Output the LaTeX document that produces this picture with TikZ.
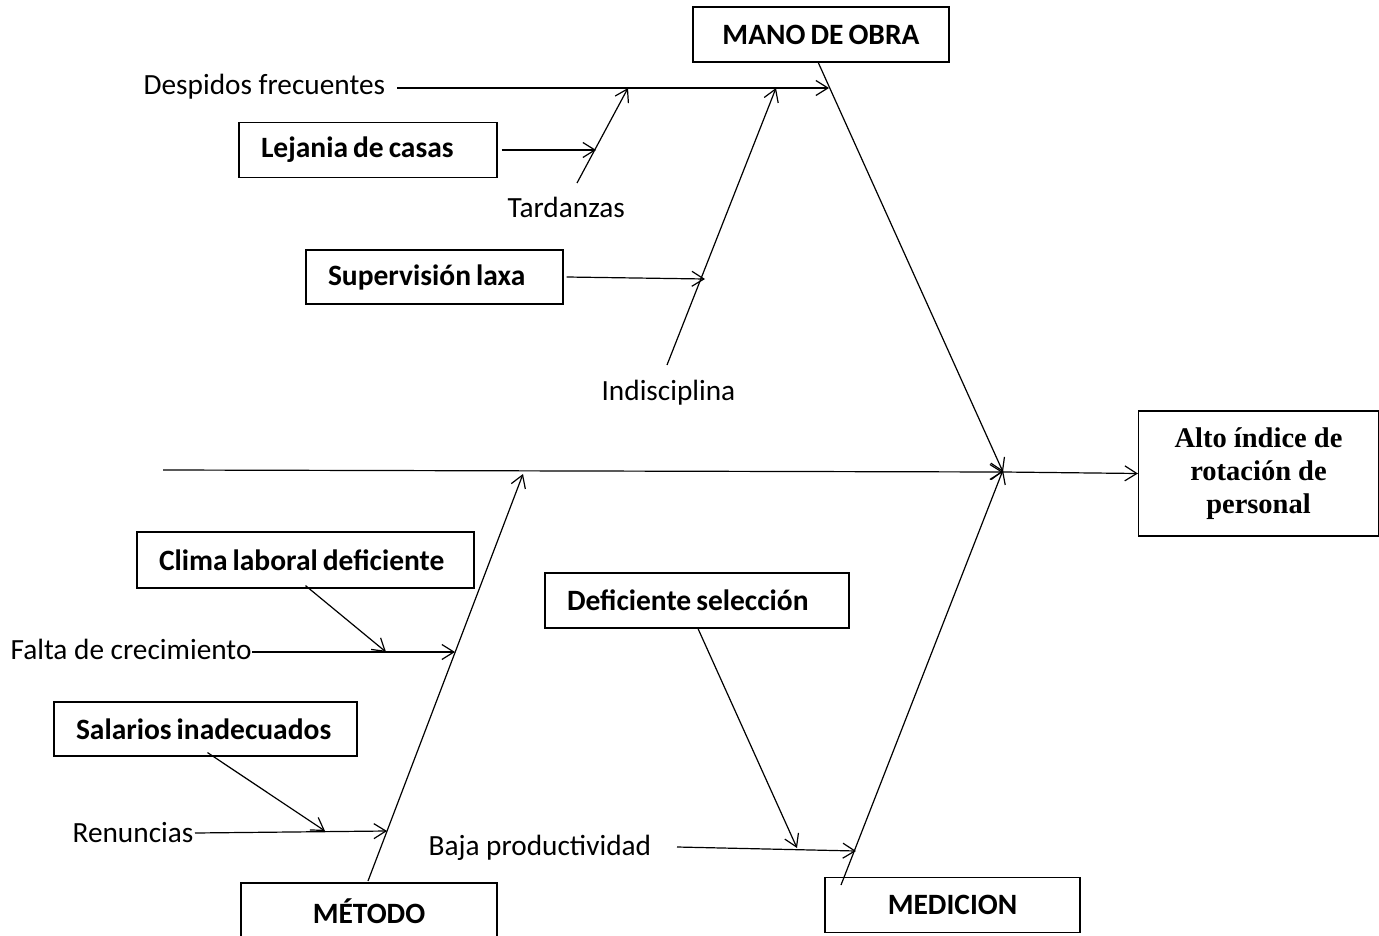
\documentclass[tikz,border=0pt]{standalone}
\usepackage{fontspec}
\setmainfont{Carlito}
\newfontfamily\headserif{Liberation Serif}
\usetikzlibrary{arrows.meta}
\newcommand\tightsp{\spaceskip=0.17em\relax\hyphenpenalty=10000\relax}
\newcommand\boxfont{\fontsize{29.5}{34}\selectfont\bfseries\tightsp}
\begin{document}
\begin{tikzpicture}[x=1pt,y=-1pt,line width=1.2pt,
  txt/.style={font=\fontsize{29.3}{34}\selectfont},
  cbox/.style={draw,inner sep=0pt,minimum height=55pt,font=\boxfont},
  lbox/.style={draw,inner ysep=0pt,inner xsep=22pt,minimum height=55pt,
    align=left,font=\boxfont,execute at begin node=\tightsp},
  lbl/.style={txt,inner sep=0pt,anchor=base west},
  arr/.style={-{Straight Barb[length=12pt,width=15pt]}}]
\useasboundingbox (0,0) rectangle (1379,936);

% effect box
\node[draw,inner sep=0pt,minimum width=240pt,minimum height=125pt,align=center,
  font=\fontsize{28.5}{33}\selectfont\headserif\bfseries]
  (effect) at (1258.5,473.5) {Alto índice de\\rotación de\\personal};

% category boxes
\node[cbox,minimum width=256pt] (mano) at (821,34.5) {MANO DE OBRA};
\node[cbox,minimum width=256pt,minimum height=56pt] (metodo) at (369,911) {MÉTODO};
\node[cbox,minimum width=255pt] (medicion) at (952.5,905) {MEDICION};

% cause boxes
\node[lbox,text width=214pt] (lejania) at (368,150) {Lejania de casas};
\node[lbox,text width=213pt,minimum height=54pt] (superv) at (434.5,277) {Supervisión laxa};
\node[lbox,text width=293pt,minimum height=56pt] (clima) at (305.5,560) {Clima laboral deficiente};
\node[lbox,text width=259pt,minimum height=54pt] (salarios) at (205.5,729) {Salarios inadecuados};
\node[lbox,text width=260pt] (selec) at (697,600.5) {Deficiente selección};

% plain labels
\node[lbl] (despidos) at (143,95) {Despidos frecuentes};
\node[lbl] (tardanzas) at (507,218) {Tardanzas};
\node[lbl] (indisc) at (601,400) {Indisciplina};
\node[lbl] (falta) at (10,659) {Falta de crecimiento};
\node[lbl] (renuncias) at (72,842) {Renuncias};
\node[lbl] (baja) at (428,855) {Baja productividad};

% junction points
\coordinate (head) at (1003,472);
\coordinate (spine0) at (163,470);
\coordinate (manoTop) at (818,62);
\coordinate (jD) at (829,88);
\coordinate (d0) at (397,88);
\coordinate (jT) at (628,88);
\coordinate (t0) at (577,183);
\coordinate (jL) at (596,150);
\coordinate (jI) at (776,88);
\coordinate (i0) at (667,365);
\coordinate (jS) at (705,279);
\coordinate (metBot) at (368,881);
\coordinate (jM) at (523,474);
\coordinate (jF) at (455,652);
\coordinate (jC) at (386,652);
\coordinate (jR) at (387,831);
\coordinate (jSal) at (325,831);
\coordinate (r0) at (195,833);
\coordinate (medBot) at (841,885);
\coordinate (jB) at (856,851);
\coordinate (b0) at (677,847);
\coordinate (jDS) at (797,848);

% spine
\draw[arr] (spine0) -- (head);
\draw[arr] (head) -- (effect.west);

% MANO DE OBRA branch
\draw[arr] (manoTop) -- (head);
\draw[arr] (d0) -- (jD);
\draw[arr] (t0) -- (jT);
\draw[arr] (i0) -- (jI);
\draw[arr] (lejania.east) ++(4,0) -- (jL);
\draw[arr] ([xshift=3pt]superv.east) -- (jS);

% METODO branch
\draw[arr] (metBot) -- (jM);
\draw[arr] (falta.east |- jF) -- (jF);
\draw[arr] ([yshift=3pt]clima.south) -- (jC);
\draw[arr] (r0) -- (jR);
\draw[arr] ([xshift=2pt,yshift=4pt]salarios.south) -- (jSal);

% MEDICION branch
\draw[arr] (medBot) -- ([yshift=2pt]head);
\draw[arr] (b0) -- (jB);
\draw[arr] ([xshift=1pt]selec.south) -- (jDS);
\end{tikzpicture}
\end{document}
